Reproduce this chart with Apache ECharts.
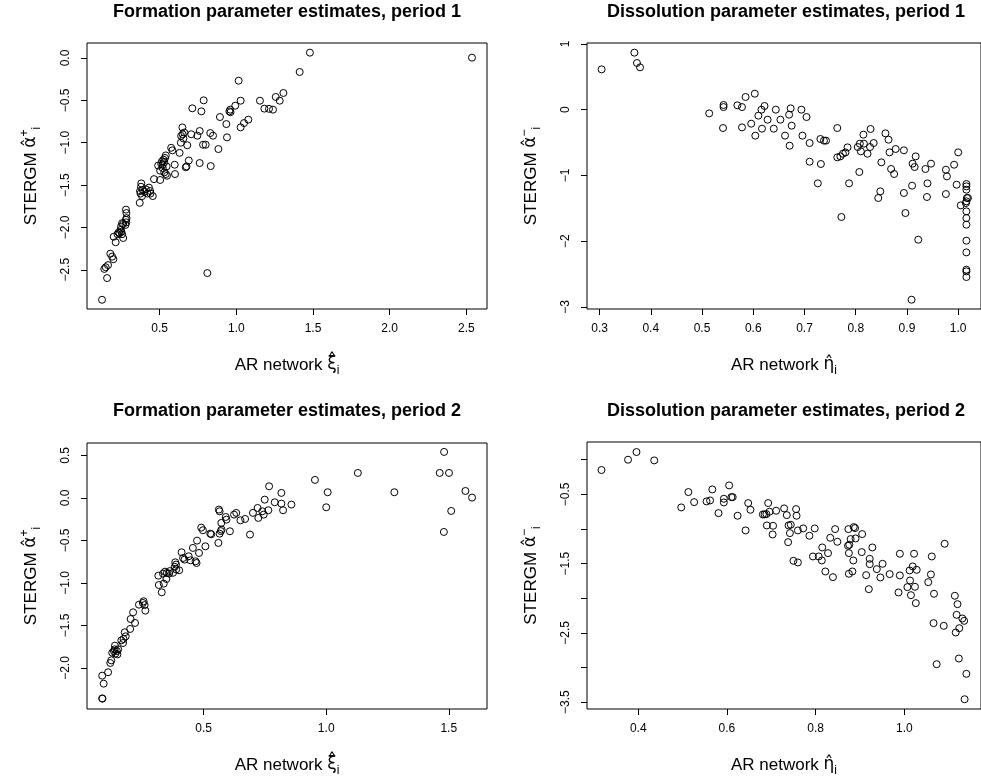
<!DOCTYPE html>
<html><head><meta charset="utf-8">
<script src="https://cdn.jsdelivr.net/npm/echarts@6/dist/echarts.min.js"></script>
<style>html,body{margin:0;padding:0;background:#fff}#c{width:981px;height:778px}</style>
</head><body><div id="c"></div>
<script>
// ---- Data ----
const formationP1 = [
[0.124,-2.854],[0.157,-2.598],[0.139,-2.49],[0.148,-2.47],[0.163,-2.445],
[0.178,-2.31],[0.19,-2.345],[0.198,-2.375],[0.2,-2.11],[0.213,-2.175],
[0.225,-2.08],[0.232,-2.06],[0.238,-2.07],[0.245,-2.03],[0.25,-2.05],[0.255,-2.08],[0.262,-2.125],
[0.248,-1.99],[0.255,-1.95],[0.262,-1.96],
[0.28,-1.79],[0.283,-1.83],[0.284,-1.89],[0.282,-1.94],[0.277,-1.97],[0.28,-1.91],
[0.37,-1.71],[0.372,-1.57],[0.375,-1.6],[0.378,-1.52],[0.38,-1.48],[0.385,-1.63],[0.39,-1.56],
[0.4,-1.58],[0.41,-1.55],[0.42,-1.6],[0.43,-1.53],[0.438,-1.57],[0.44,-1.6],[0.455,-1.63],
[0.463,-1.43],[0.49,-1.27],[0.503,-1.33],[0.503,-1.44],
[0.51,-1.25],[0.515,-1.22],[0.52,-1.26],[0.525,-1.2],[0.53,-1.23],[0.535,-1.18],[0.54,-1.15],[0.545,-1.28],
[0.52,-1.3],[0.53,-1.35],[0.54,-1.37],[0.548,-1.39],
[0.575,-1.06],[0.583,-1.09],[0.598,-1.26],[0.6,-1.37],
[0.63,-1.12],[0.638,-1.0],[0.64,-0.92],[0.648,-0.82],[0.65,-0.9],[0.655,-0.95],[0.66,-0.88],[0.68,-1.03],
[0.67,-1.29],[0.675,-1.28],[0.69,-1.21],
[0.706,-0.9],[0.713,-0.594],[0.746,-0.917],[0.761,-0.862],[0.761,-1.24],[0.772,-0.63],[0.783,-1.024],[0.8,-1.024],[0.787,-0.5],
[0.811,-2.539],
[0.83,-0.886],[0.848,-0.917],[0.833,-1.276],[0.883,-1.075],[0.893,-0.697],[0.935,-0.78],[0.939,-0.937],
[0.955,-0.63],[0.962,-0.64],[0.96,-0.61],
[0.993,-0.563],[1.015,-0.268],[1.028,-0.504],[1.028,-0.819],[1.05,-0.768],[1.078,-0.728],
[1.154,-0.504],[1.183,-0.598],[1.213,-0.6],[1.239,-0.61],[1.257,-0.46],[1.283,-0.504],[1.307,-0.413],
[1.413,-0.165],[1.48,0.063],[2.537,0.004]
];

const dissolutionP1 = [
[0.304,0.613],[0.368,0.867],[0.373,0.71],[0.379,0.644],
[0.514,-0.056],[0.542,0.071],[0.542,0.04],[0.541,-0.279],
[0.569,0.066],[0.578,0.04],[0.578,-0.269],[0.585,0.193],[0.596,-0.213],[0.603,0.243],[0.604,-0.395],
[0.61,-0.091],[0.616,0.0],[0.622,0.056],[0.617,-0.289],[0.628,-0.152],[0.64,-0.289],[0.644,0.0],
[0.653,-0.152],[0.662,-0.395],[0.67,-0.076],[0.671,-0.548],[0.673,0.02],[0.675,-0.243],
[0.694,0.0],[0.696,-0.395],[0.704,-0.112],[0.71,-0.507],[0.71,-0.791],[0.726,-1.12],
[0.731,-0.446],[0.732,-0.826],[0.738,-0.471],[0.742,-0.471],[0.764,-0.279],[0.764,-0.725],
[0.77,-0.71],[0.772,-1.632],[0.775,-0.67],[0.78,-0.65],[0.784,-0.573],[0.787,-1.12],
[0.804,-0.568],[0.807,-0.948],[0.808,-0.517],[0.81,-0.634],[0.815,-0.38],[0.816,-0.517],
[0.823,-0.67],[0.828,-0.568],[0.829,-0.294],[0.835,-0.507],[0.844,-1.343],[0.848,-1.242],
[0.85,-0.801],[0.858,-0.36],[0.864,-0.456],[0.866,-0.649],[0.869,-0.902],[0.875,-0.978],
[0.878,-0.598],[0.894,-0.618],[0.894,-1.267],[0.897,-1.572],[0.909,-2.89],[0.91,-1.156],
[0.911,-0.821],[0.915,-0.872],[0.917,-0.71],[0.922,-1.977],[0.936,-0.902],[0.939,-1.328],
[0.94,-1.12],[0.947,-0.821],[0.976,-0.913],[0.976,-1.283],[0.978,-1.014],[0.992,-0.837],
[0.997,-1.141],[1.0,-0.649],[1.005,-1.455],
[1.016,-1.131],[1.016,-1.166],[1.016,-1.217],[1.017,-1.343],[1.016,-1.394],[1.015,-1.42],
[1.016,-1.546],[1.016,-1.648],[1.016,-1.749],[1.016,-1.992],[1.016,-2.17],[1.016,-2.433],
[1.016,-2.459],[1.016,-2.545],[1.019,-1.343]
];

const formationP2 = [
[0.086,-2.357],[0.087,-2.36],[0.092,-2.184],[0.086,-2.09],[0.11,-2.05],[0.119,-1.941],[0.123,-1.91],
[0.127,-1.82],[0.134,-1.80],[0.14,-1.83],[0.137,-1.78],[0.146,-1.8],[0.151,-1.78],[0.138,-1.737],[0.148,-1.84],
[0.164,-1.675],[0.171,-1.706],[0.173,-1.659],[0.178,-1.58],[0.182,-1.627],[0.2,-1.541],[0.202,-1.424],
[0.212,-1.345],[0.22,-1.47],[0.236,-1.255],
[0.252,-1.235],[0.255,-1.215],[0.259,-1.26],[0.262,-1.325],
[0.315,-0.914],[0.317,-1.024],[0.329,-1.11],[0.334,-0.89],[0.342,-0.867],[0.35,-0.882],[0.359,-0.89],
[0.362,-0.86],[0.337,-1.008],[0.348,-0.953],
[0.375,-0.88],[0.382,-0.81],[0.384,-0.757],[0.387,-0.784],[0.388,-0.84],[0.4,-0.851],
[0.41,-0.639],[0.416,-0.706],[0.422,-0.725],[0.439,-0.686],[0.446,-0.733],[0.456,-0.588],[0.467,-0.745],
[0.471,-0.765],[0.473,-0.502],[0.481,-0.647],[0.49,-0.349],[0.497,-0.38],[0.507,-0.569],[0.527,-0.42],[0.531,-0.427],
[0.56,-0.529],[0.562,-0.137],[0.565,-0.157],[0.565,-0.42],[0.57,-0.39],[0.572,-0.294],[0.573,-0.372],
[0.59,-0.224],[0.593,-0.255],[0.607,-0.392],[0.624,-0.196],[0.633,-0.176],[0.65,-0.263],[0.669,-0.247],
[0.689,-0.431],[0.701,-0.176],[0.72,-0.118],[0.723,-0.235],[0.739,-0.157],[0.745,-0.196],[0.749,-0.02],
[0.764,-0.145],[0.767,0.137],[0.79,-0.051],[0.817,0.059],[0.817,-0.067],[0.824,-0.145],[0.858,-0.078],
[0.954,0.212],[1.006,0.067],[1.0,-0.11],[1.129,0.294],[1.278,0.067],[1.481,0.541],[1.463,0.294],
[1.501,0.294],[1.568,0.082],[1.595,0.004],[1.51,-0.153],[1.48,-0.4]
];

const dissolutionP2 = [
[0.317,-0.149],[0.377,0.0],[0.396,0.111],[0.436,-0.01],
[0.497,-0.689],[0.513,-0.467],[0.526,-0.612],[0.554,-0.602],[0.562,-0.588],[0.567,-0.429],
[0.581,-0.771],[0.593,-0.564],[0.593,-0.617],[0.61,-0.54],[0.613,-0.54],[0.605,-0.371],
[0.624,-0.809],[0.642,-1.021],[0.648,-0.626],[0.653,-0.723],
[0.681,-0.79],[0.685,-0.79],[0.689,-0.785],[0.693,-0.626],[0.696,-0.751],[0.69,-0.949],
[0.704,-0.954],[0.703,-1.079],[0.711,-0.737],
[0.729,-0.703],[0.735,-0.8],[0.739,-0.949],[0.744,-0.939],[0.742,-1.06],[0.738,-1.19],
[0.75,-1.46],[0.76,-1.484],[0.756,-0.713],[0.757,-0.809],[0.76,-1.021],[0.772,-0.992],
[0.786,-1.098],[0.798,-0.992],[0.794,-1.397],[0.807,-1.397],[0.815,-1.267],[0.814,-1.455],
[0.828,-1.349],[0.822,-1.614],[0.839,-1.696],[0.833,-1.127],[0.844,-1.002],[0.849,-1.185],
[0.874,-1.002],[0.876,-1.228],[0.879,-1.146],[0.886,-0.973],[0.889,-0.987],[0.89,-1.137],
[0.873,-1.243],[0.875,-1.349],[0.885,-1.455],[0.875,-1.647],[0.883,-1.614],
[0.904,-1.334],[0.905,-1.074],[0.914,-1.667],[0.922,-1.431],[0.928,-1.267],[0.922,-1.508],
[0.92,-1.869],[0.938,-1.58],[0.946,-1.7],[0.951,-1.503],[0.967,-1.652],
[0.99,-1.358],[0.99,-1.671],[0.987,-1.917],[1.013,-1.744],[1.012,-1.599],[1.022,-1.358],
[1.019,-1.541],[1.028,-1.59],[1.007,-1.84],[1.024,-1.835],[1.015,-1.956],[1.026,-2.071],
[1.062,-1.397],[1.06,-1.657],[1.054,-1.768],[1.067,-1.936],[1.091,-1.214],[1.066,-2.36],
[1.089,-2.399],[1.114,-1.965],[1.12,-2.086],[1.118,-2.24],[1.131,-2.293],[1.135,-2.327],
[1.124,-2.433],[1.116,-2.495],[1.123,-2.871],[1.073,-2.953],[1.14,-3.092],[1.136,-3.459]
];

// tick positions / labels
const xTicksF1 = [0.5, 1.0, 1.5, 2.0, 2.5];
const yTicksF1 = [-2.5, -2.0, -1.5, -1.0, -0.5, 0.0];
const xTicksD1 = [0.3, 0.4, 0.5, 0.6, 0.7, 0.8, 0.9, 1.0];
const yTicksD1 = [-3, -2, -1, 0, 1];
const xTicksF2 = [0.5, 1.0, 1.5];
const yTicksF2 = [-2.0, -1.5, -1.0, -0.5, 0.0, 0.5];
const xTicksD2 = [0.4, 0.6, 0.8, 1.0];
const yTicksD2 = [-3.5, -3.0, -2.5, -2.0, -1.5, -1.0, -0.5, 0.0];
const yLabelsD2 = [-3.5, -2.5, -1.5, -0.5];

const titles = [
  'Formation parameter estimates, period 1',
  'Dissolution parameter estimates, period 1',
  'Formation parameter estimates, period 2',
  'Dissolution parameter estimates, period 2'
];

// ---- layout ----
const FONT = 'Liberation Sans, Arial, Helvetica, sans-serif';
const grids = [
  {left: 87, top: 43, width: 400, height: 266},
  {left: 587, top: 43, width: 398, height: 266},
  {left: 87, top: 443, width: 400, height: 266},
  {left: 587, top: 442, width: 400, height: 267}
];
const ranges = [
  {x: [0.026, 2.635], y: [-2.963, 0.177]},
  {x: [0.2755, 1.0445], y: [-3.031, 1.014]},
  {x: [0.024, 1.656], y: [-2.482, 0.646]},
  {x: [0.2844, 1.173], y: [-3.6, 0.256]}
];
const fmt1 = v => (v < 0 ? '\u2212' : '') + Math.abs(v).toFixed(1);
const fmt0 = v => (v < 0 ? '\u2212' : '') + Math.abs(Math.round(v));

const nameRich = {
  t: {fontSize: 17, fontFamily: FONT, color: '#000'},
  g: {fontSize: 17, fontFamily: 'DejaVu Sans', color: '#000'},
  s: {fontSize: 12, fontFamily: FONT, color: '#000', padding: [12, 0, 0, 0]},
  p: {fontSize: 12, fontFamily: FONT, color: '#000', padding: [0, 0, 12, 0]}
};

function mkX(i, ticks, fmt, name) {
  return {
    type: 'value', gridIndex: i, min: ranges[i].x[0], max: ranges[i].x[1],
    splitLine: {show: false}, axisLine: {show: false, onZero: false},
    axisTick: {show: true, inside: false, length: 6, customValues: ticks, lineStyle: {color: '#000', width: 1}},
    axisLabel: {show: true, customValues: ticks, formatter: fmt, color: '#000', fontSize: 12, fontFamily: FONT, margin: 14},
    name: name, nameLocation: 'middle', nameGap: 44, nameMoveOverlap: false,
    nameTextStyle: {color: '#000', fontSize: 17, fontFamily: FONT, rich: nameRich}
  };
}
function mkY(i, ticks, labels, fmt, name) {
  return {
    type: 'value', gridIndex: i, min: ranges[i].y[0], max: ranges[i].y[1],
    splitLine: {show: false}, axisLine: {show: false, onZero: false},
    axisTick: {show: true, inside: false, length: 6, customValues: ticks, lineStyle: {color: '#000', width: 1}},
    axisLabel: {show: true, customValues: labels, formatter: fmt, rotate: 90, color: '#000', fontSize: 12, fontFamily: FONT, margin: 15},
    name: name, nameLocation: 'middle', nameGap: 44, nameMoveOverlap: false,
    nameTextStyle: {color: '#000', fontSize: 17, fontFamily: FONT, rich: nameRich}
  };
}

const xNameXi = '{t|AR network }{g|\u03BE\u0302}{s|i}';
const xNameEta = '{t|AR network }{g|\u03B7\u0302}{s|i}';
const yNamePlus = '{t|STERGM }{g|\u03B1\u0302}{p|+}{s|i}';
const yNameMinus = '{t|STERGM }{g|\u03B1\u0302}{p|\u2212}{s|i}';

const datasets = [formationP1, dissolutionP1, formationP2, dissolutionP2];

const option = {
  backgroundColor: '#fff',
  animation: false,
  grid: grids.map(g => Object.assign({show: true, borderColor: '#000', borderWidth: 1, backgroundColor: 'transparent'}, g)),
  xAxis: [
    mkX(0, xTicksF1, fmt1, xNameXi),
    mkX(1, xTicksD1, fmt1, xNameEta),
    mkX(2, xTicksF2, fmt1, xNameXi),
    mkX(3, xTicksD2, fmt1, xNameEta)
  ],
  yAxis: [
    mkY(0, yTicksF1, yTicksF1, fmt1, yNamePlus),
    mkY(1, yTicksD1, yTicksD1, fmt0, yNameMinus),
    mkY(2, yTicksF2, yTicksF2, fmt1, yNamePlus),
    mkY(3, yTicksD2, yLabelsD2, fmt1, yNameMinus)
  ],
  series: datasets.map((d, i) => ({
    type: 'scatter', xAxisIndex: i, yAxisIndex: i, data: d,
    symbol: 'circle', symbolSize: 7, silent: true,
    itemStyle: {color: 'rgba(0,0,0,0)', borderColor: '#000', borderWidth: 1, opacity: 1}
  })),
  graphic: titles.map((t, i) => ({
    type: 'text',
    x: grids[i].left + (i % 2 === 1 ? 199 : 200),
    y: i < 2 ? 12 : 411,
    style: {text: t, fill: '#000', font: 'bold 18px ' + FONT, textAlign: 'center', textVerticalAlign: 'middle'}
  }))
};

const chart = echarts.init(document.getElementById('c'), null, {renderer: 'canvas'});
chart.setOption(option);
</script>
</body></html>
